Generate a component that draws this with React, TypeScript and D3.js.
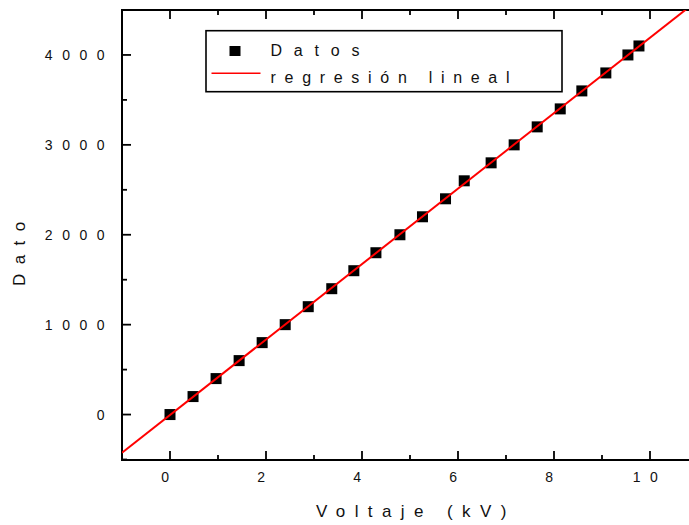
import React from "react"
import * as d3 from "d3"

// measured data: voltage (kV) vs counts
const voltaje = [0, 0.48, 0.96, 1.44, 1.92, 2.4, 2.88, 3.37, 3.83, 4.29, 4.79, 5.26, 5.74, 6.13, 6.69, 7.17, 7.65, 8.13, 8.58, 9.08, 9.54, 9.77]
const dato = [0, 200, 400, 600, 800, 1000, 1200, 1400, 1600, 1800, 2000, 2200, 2400, 2600, 2800, 3000, 3200, 3400, 3600, 3800, 4000, 4100]

const xMajor = [0, 2, 4, 6, 8, 10]
const xMinor = [-1, 1, 3, 5, 7, 9, 11]
const yMajor = [0, 1000, 2000, 3000, 4000]
const yMinor = [-500, 500, 1500, 2500, 3500, 4500]

const W = 689
const H = 525
const FONT = "'Liberation Sans', Arial, Helvetica, sans-serif"

export default function App() {
  const left = 122
  const top = 10
  const bottom = 460
  const x = d3.scaleLinear().domain([-1, 11]).range([left, left + 12 * 48])
  const y = d3.scaleLinear().domain([-500, 4500]).range([459.5, top])
  const right = x(11)

  // least squares fit
  const mx = d3.mean(voltaje)!
  const my = d3.mean(dato)!
  const sxy = d3.sum(voltaje, (v, i) => (v - mx) * (dato[i] - my))
  const sxx = d3.sum(voltaje, (v) => (v - mx) * (v - mx))
  const slope = sxy / sxx
  const intercept = my - slope * mx
  const fitLine = d3
    .line<number>()
    .x((d) => x(d))
    .y((d) => y(slope * d + intercept))(x.domain())

  const major = 9
  const minor = 5
  const sq = 11

  return (
    <svg width={W} height={H} style={{ position: "absolute", left: 0, top: 0, background: "#fff" }}>
      <defs>
        <clipPath id="plot">
          <rect x={left} y={top} width={right - left} height={bottom - top} />
        </clipPath>
      </defs>

      {/* axes frame */}
      <g stroke="#000" strokeWidth={2} fill="none">
        <line x1={left} y1={top} x2={right} y2={top} />
        <line x1={left} y1={bottom} x2={right} y2={bottom} />
        <line x1={left} y1={top - 1} x2={left} y2={bottom + 1} />
      </g>

      {/* ticks */}
      <g stroke="#000" strokeWidth={1.8}>
        {xMajor.map((t) => (
          <g key={"xm" + t}>
            <line x1={x(t)} x2={x(t)} y1={bottom} y2={bottom - major} />
            <line x1={x(t)} x2={x(t)} y1={top} y2={top + major} />
          </g>
        ))}
        {xMinor.map((t) => (
          <g key={"xn" + t}>
            <line x1={x(t)} x2={x(t)} y1={bottom} y2={bottom - minor} />
            <line x1={x(t)} x2={x(t)} y1={top} y2={top + minor} />
          </g>
        ))}
        {yMajor.map((t) => (
          <line key={"ym" + t} x1={left} x2={left + major} y1={y(t)} y2={y(t)} />
        ))}
        {yMinor.map((t) => (
          <line key={"yn" + t} x1={left} x2={left + minor} y1={y(t)} y2={y(t)} />
        ))}
      </g>

      {/* tick labels */}
      <g fontFamily={FONT} fontSize={14} fill="#111" letterSpacing={9.5}>
        {xMajor.map((t) => (
          <text key={"xl" + t} x={x(t)} y={482} textAnchor="middle">
            {t}
          </text>
        ))}
        {yMajor.map((t) => (
          <text key={"yl" + t} x={114} y={y(t)} dy="0.36em" textAnchor="end">
            {t}
          </text>
        ))}
      </g>

      {/* axis titles */}
      <text x={316} y={517} fontFamily={FONT} fontSize={17} fill="#111" letterSpacing={9.4}>
        Voltaje (kV)
      </text>
      <text
        transform="translate(25,286) rotate(-90)"
        fontFamily={FONT}
        fontSize={17}
        fill="#111"
        letterSpacing={9.4}
      >
        Dato
      </text>

      {/* data + fit */}
      <g clipPath="url(#plot)">
        {voltaje.map((v, i) => (
          <rect
            key={"p" + i}
            x={x(v) - sq / 2}
            y={y(dato[i]) - sq / 2}
            width={sq}
            height={sq}
            fill="#000"
          />
        ))}
        <path d={fitLine ?? ""} stroke="#ff0000" strokeWidth={2} fill="none" />
      </g>

      {/* legend */}
      <g>
        <rect x={206} y={30.7} width={356} height={61} fill="#fff" stroke="#000" strokeWidth={1.6} />
        <rect x={229.5} y={46} width={11} height={10} fill="#000" />
        <line x1={211.5} x2={260.5} y1={73.3} y2={73.3} stroke="#ff0000" strokeWidth={1.6} />
        <text x={270.5} y={56} fontFamily={FONT} fontSize={16} fill="#111" letterSpacing={11.8}>
          Datos
        </text>
        <text x={270.5} y={83} fontFamily={FONT} fontSize={16} fill="#111" letterSpacing={8.7}>
          regresión lineal
        </text>
      </g>
    </svg>
  )
}
